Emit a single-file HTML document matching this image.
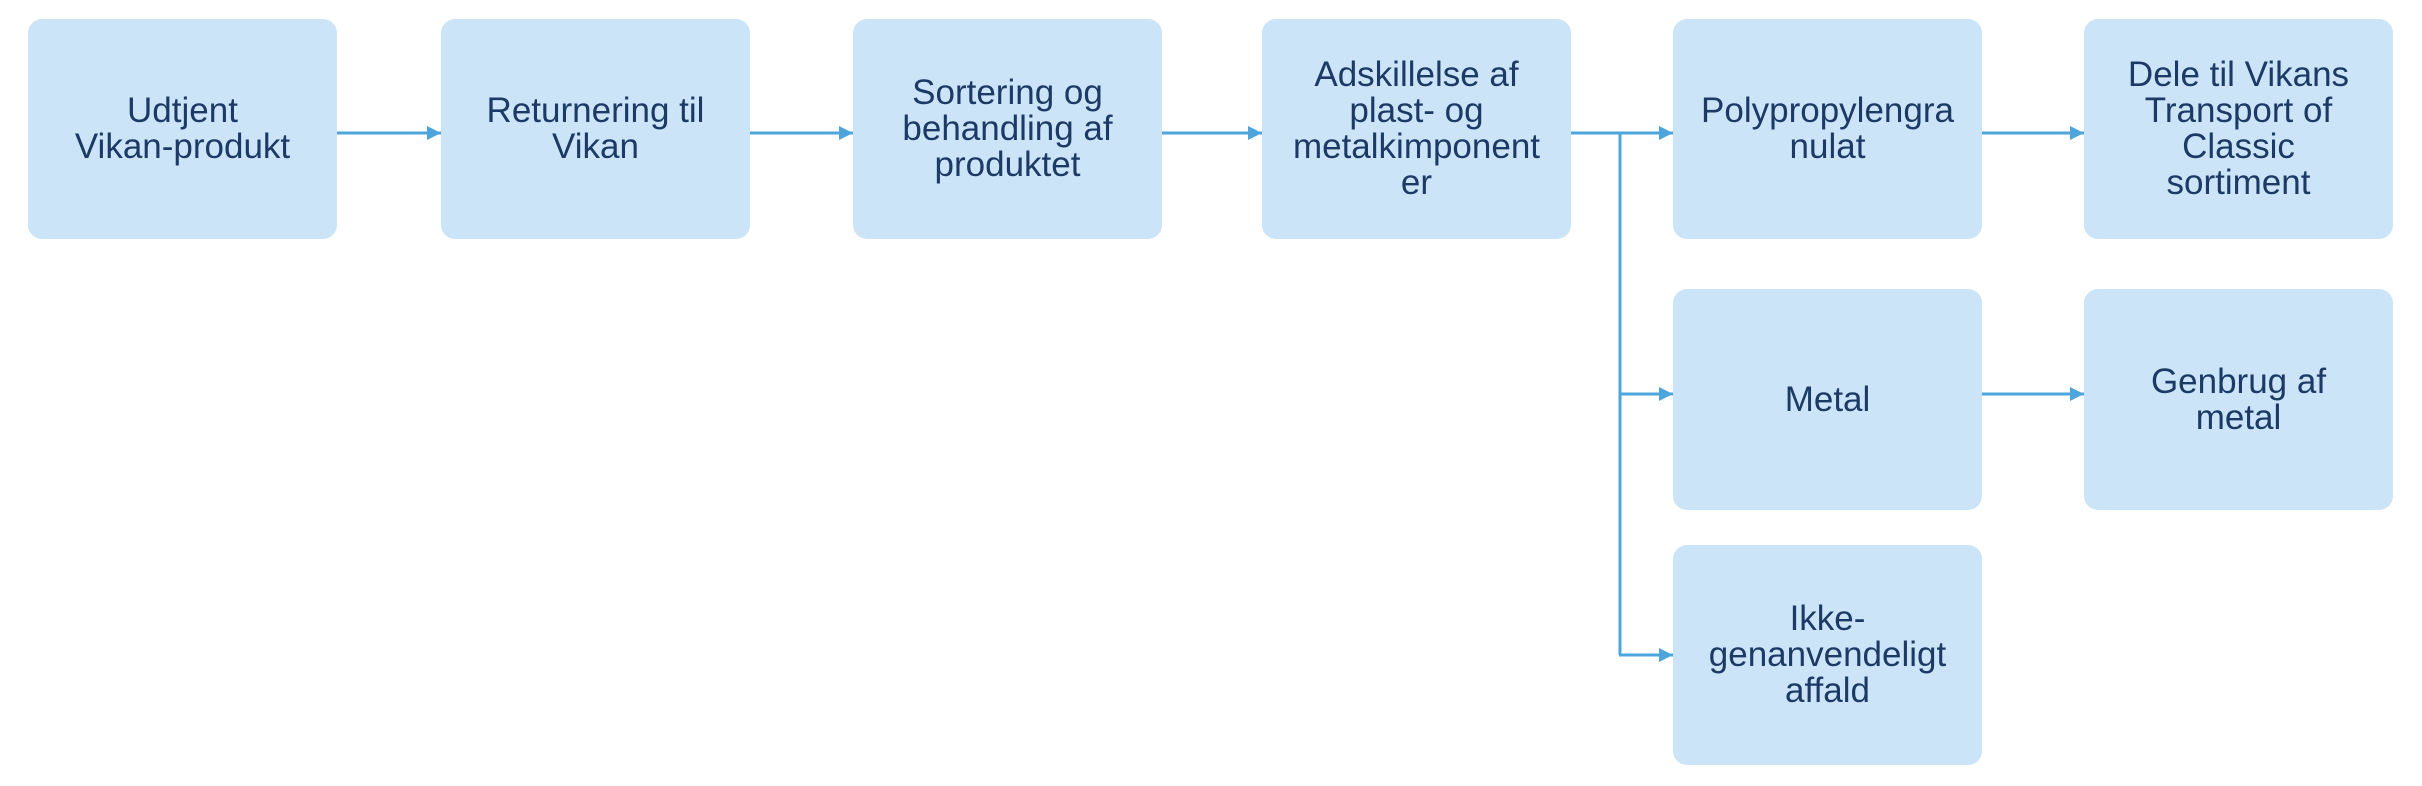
<!DOCTYPE html>
<html><head><meta charset="utf-8"><style>
html,body{margin:0;padding:0;background:#fff;}
body{width:2422px;height:786px;position:relative;overflow:hidden;font-family:"Liberation Sans",sans-serif;}
.b{position:absolute;width:309px;background:#cce4f7;border-radius:14px;display:flex;align-items:center;justify-content:center;text-align:center;color:#1d3a66;font-size:35px;line-height:36px;}
svg{position:absolute;left:0;top:0;}
</style></head><body>
<div class="b" style="left:28px;top:19px;height:220px">Udtjent<br>Vikan-produkt</div>
<div class="b" style="left:441px;top:19px;height:220px">Returnering til<br>Vikan</div>
<div class="b" style="left:853px;top:19px;height:220px">Sortering og<br>behandling af<br>produktet</div>
<div class="b" style="left:1262px;top:19px;height:220px">Adskillelse af<br>plast- og<br>metalkimponent<br>er</div>
<div class="b" style="left:1673px;top:19px;height:220px">Polypropylengra<br>nulat</div>
<div class="b" style="left:2084px;top:19px;height:220px">Dele til Vikans<br>Transport of<br>Classic<br>sortiment</div>
<div class="b" style="left:1673px;top:289px;height:221px">Metal</div>
<div class="b" style="left:2084px;top:289px;height:221px">Genbrug af<br>metal</div>
<div class="b" style="left:1673px;top:545px;height:220px">Ikke-<br>genanvendeligt<br>affald</div>
<svg width="2422" height="786">
<defs><marker id="a" markerWidth="14" markerHeight="14" refX="14" refY="7" orient="auto" markerUnits="userSpaceOnUse"><path d="M0,0 L14,7 L0,14 Z" fill="#4ea5dc"/></marker></defs>
<g stroke="#4ea5dc" stroke-width="3" fill="none">
<line x1="337" y1="133" x2="441" y2="133" marker-end="url(#a)"/>
<line x1="750" y1="133" x2="853" y2="133" marker-end="url(#a)"/>
<line x1="1162" y1="133" x2="1262" y2="133" marker-end="url(#a)"/>
<line x1="1571" y1="133" x2="1673" y2="133" marker-end="url(#a)"/>
<line x1="1982" y1="133" x2="2084" y2="133" marker-end="url(#a)"/>
<line x1="1982" y1="394" x2="2084" y2="394" marker-end="url(#a)"/>
<line x1="1620" y1="133" x2="1620" y2="655"/>
<line x1="1619" y1="394" x2="1673" y2="394" marker-end="url(#a)"/>
<line x1="1619" y1="655" x2="1673" y2="655" marker-end="url(#a)"/>
</g></svg>
</body></html>
